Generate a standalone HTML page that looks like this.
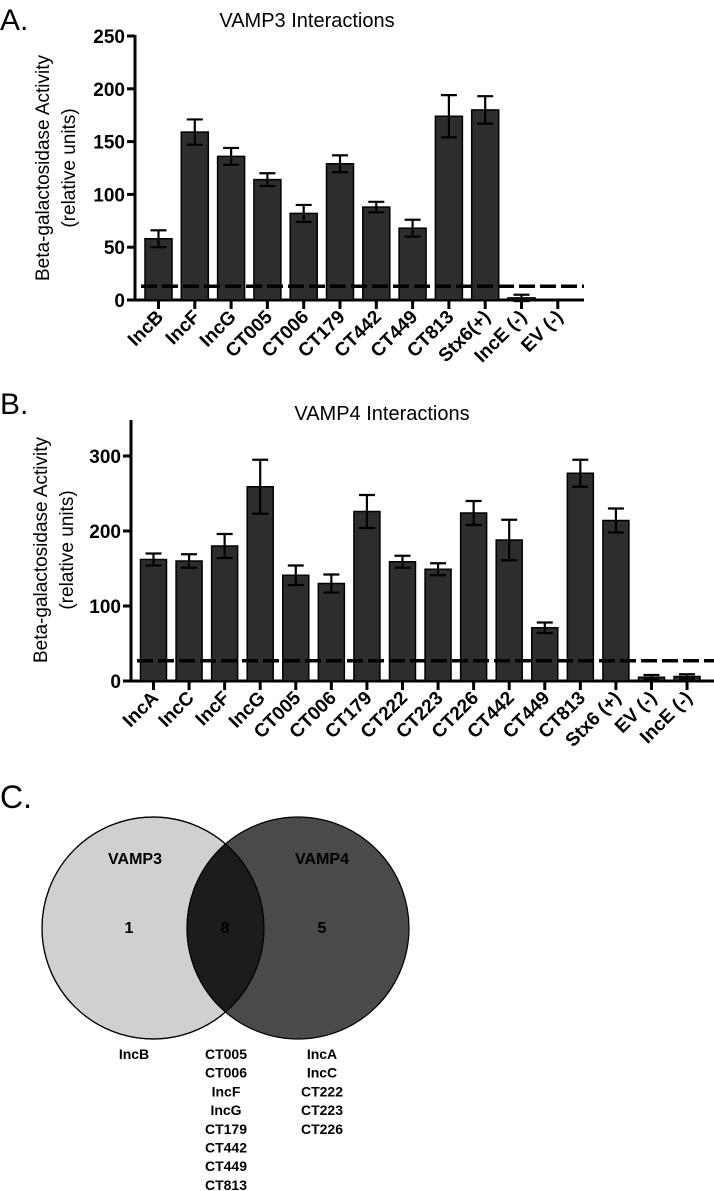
<!DOCTYPE html>
<html><head><meta charset="utf-8"><style>
html,body{margin:0;padding:0;background:#fff;}
svg{display:block;font-family:"Liberation Sans",Arial,sans-serif;}
</style></head><body>
<svg id="fig" width="714" height="1191" viewBox="0 0 714 1191">
<text x="0" y="30" font-size="30">A.</text>
<text x="307" y="27" font-size="20" text-anchor="middle">VAMP3 Interactions</text>
<text transform="translate(49,168) rotate(-90)" font-size="19" text-anchor="middle"><tspan x="0" dy="0">Beta-galactosidase Activity</tspan><tspan x="0" dy="26">(relative units)</tspan></text>
<text x="0" y="414" font-size="30">B.</text>
<text x="382" y="420" font-size="20" text-anchor="middle">VAMP4 Interactions</text>
<text transform="translate(47,550) rotate(-90)" font-size="19" text-anchor="middle"><tspan x="0" dy="0">Beta-galactosidase Activity</tspan><tspan x="0" dy="26">(relative units)</tspan></text>
<g id="ga"></g>
<g id="gb"></g>
<g>
<text x="0" y="808" font-size="32">C.</text>
<clipPath id="lc"><circle cx="153" cy="928" r="111"/></clipPath>
<circle cx="153" cy="928" r="111" fill="#d0d0d0" stroke="#000" stroke-width="1.2"/>
<circle cx="298" cy="928" r="111" fill="#4a4a4a" stroke="#000" stroke-width="1.2"/>
<circle cx="298" cy="928" r="111" fill="#1c1c1c" stroke="#000" stroke-width="1.2" clip-path="url(#lc)"/>
<circle cx="153" cy="928" r="111" fill="none" stroke="#000" stroke-width="1.2"/>
<g font-weight="bold" font-size="16" text-anchor="middle">
<text x="135" y="864">VAMP3</text>
<text x="322" y="864">VAMP4</text>
<text x="129" y="933">1</text>
<text x="225" y="933">8</text>
<text x="322" y="933">5</text>
</g>
<g font-weight="bold" font-size="14" text-anchor="middle" id="lists"></g>
</g>
</svg>
<script>
const catsA = ["IncB","IncF","IncG","CT005","CT006","CT179","CT442","CT449","CT813","Stx6(+)","IncE (-)","EV (-)"];
const valsA = [58,159,136,114,82,129,88,68,174,180,2,0];
const errsA = [8,12,8,6,8,8,5,8,20,13,3,0];
const ticksA = [0,50,100,150,200,250];
const cutoffA = 13;
const catsB = ["IncA","IncC","IncF","IncG","CT005","CT006","CT179","CT222","CT223","CT226","CT442","CT449","CT813","Stx6 (+)","EV (-)","IncE (-)"];
const valsB = [162,160,180,259,141,130,226,159,149,224,188,71,277,214,5,6];
const errsB = [8,9,16,36,13,12,22,8,8,16,27,7,18,16,3,3];
const ticksB = [0,100,200,300];
const cutoffB = 27;
const vennV3 = ["IncB"];
const vennBoth = ["CT005","CT006","IncF","IncG","CT179","CT442","CT449","CT813"];
const vennV4 = ["IncA","IncC","CT222","CT223","CT226"];

const NS="http://www.w3.org/2000/svg";
function mk(p,t,a){const e=document.createElementNS(NS,t);for(const k in a)e.setAttribute(k,a[k]);p.appendChild(e);return e;}

function chart(g,cats,vals,errs,ticks,cut,o){
  const y=v=>o.y0-(v-0)*(o.y0-o.yTop)/(o.vTop);
  const x=i=>o.x0+i*o.step;
  const ax=mk(g,'line',{x1:o.ax,y1:o.axTop,x2:o.ax,y2:o.y0+1.5,stroke:'#000','stroke-width':3});
  
  
  const bx=mk(g,'line',{x1:o.ax-1.5,y1:o.y0,x2:o.xEnd,y2:o.y0,stroke:'#000','stroke-width':3});
  
  
  ticks.forEach(t=>{
    const l=mk(g,'line',{x1:o.ax-8,y1:y(t),x2:o.ax,y2:y(t),stroke:'#000','stroke-width':3});
    
    
    const tx=mk(g,'text',{x:o.ax-10,y:y(t)+7,'font-size':19,'font-weight':'bold','text-anchor':'end'});
    tx.textContent=t;
    
    
  });
  cats.forEach((c,i)=>{
    const cx=x(i),v=vals[i],e=errs[i];
    const r=mk(g,'rect',{x:cx-o.bw/2,y:y(v),width:o.bw,height:o.y0-y(v),fill:'#2d2d2d',stroke:'#000','stroke-width':1.5});
    
    
    if(e>0){
      const eg=mk(g,'g',{stroke:'#000','stroke-width':2.2});
      
      
      mk(eg,'line',{x1:cx,y1:y(v-e),x2:cx,y2:y(v+e)});
      mk(eg,'line',{x1:cx-8,y1:y(v+e),x2:cx+8,y2:y(v+e)});
      mk(eg,'line',{x1:cx-8,y1:y(v-e),x2:cx+8,y2:y(v-e)});
    }
    const tk=mk(g,'line',{x1:cx,y1:o.y0,x2:cx,y2:o.y0+9,stroke:'#000','stroke-width':3});
    
    
    const lb=mk(g,'text',{transform:`translate(${cx+6},${o.y0+18}) rotate(-45)`,'font-size':19,'font-weight':'bold','text-anchor':'end'});
    lb.textContent=c;
    
    
  });
  const d=mk(g,'line',{x1:o.ax+6,y1:y(cut),x2:o.xEnd,y2:y(cut),stroke:'#000','stroke-width':3.5,'stroke-dasharray':'16,5'});
  
  
}
chart(document.getElementById('ga'),catsA,valsA,errsA,ticksA,cutoffA,{ax:135,y0:300,yTop:36,vTop:250,axTop:35,x0:158.5,step:36.3,bw:27,xEnd:584});
chart(document.getElementById('gb'),catsB,valsB,errsB,ticksB,cutoffB,{ax:131,y0:681,yTop:456,vTop:300,axTop:420,x0:153.5,step:35.57,bw:26,xEnd:714});

const L=document.getElementById('lists');
[[vennV3,134],[vennBoth,226],[vennV4,322]].forEach(([arr,xx])=>{
  arr.forEach((s,i)=>{
    const t=mk(L,'text',{x:xx,y:1059+i*18.7});
    t.textContent=s;
    
    
  });
});
</script>
</body></html>
